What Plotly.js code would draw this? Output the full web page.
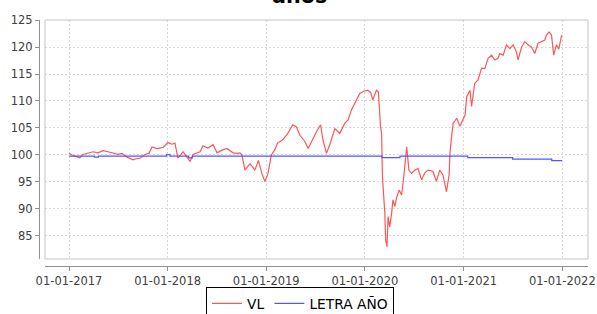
<!DOCTYPE html>
<html>
<head>
<meta charset="utf-8">
<script src="https://cdn.plot.ly/plotly-3.0.1.min.js"></script>
<style>html,body{margin:0;padding:0;background:#fff;}#chart{width:597px;height:314px;}</style>
</head>
<body>
<div id="chart"></div>
<script>
// VL series
const vlDates = [
"2017-01-02","2017-01-12","2017-01-29","2017-02-10","2017-02-21","2017-03-12","2017-03-31","2017-04-18","2017-05-07","2017-05-25",
"2017-06-13","2017-07-01","2017-07-16","2017-08-04","2017-08-26","2017-09-06","2017-09-21","2017-10-09","2017-10-24","2017-11-04",
"2017-11-23","2017-12-15","2018-01-02","2018-01-17","2018-01-28","2018-02-08","2018-02-27","2018-03-17","2018-03-25","2018-04-05",
"2018-05-01","2018-05-12","2018-05-30","2018-06-18","2018-07-03","2018-07-21","2018-08-09","2018-08-31","2018-09-14","2018-09-26",
"2018-10-03","2018-10-14","2018-11-02","2018-11-20","2018-12-03","2018-12-16","2018-12-27","2019-01-07","2019-01-20","2019-02-01",
"2019-02-12","2019-03-03","2019-03-22","2019-04-09","2019-04-23","2019-05-05","2019-05-24","2019-06-05","2019-06-17","2019-07-06",
"2019-07-21","2019-07-30","2019-08-12","2019-08-24","2019-09-12","2019-09-30","2019-10-19","2019-10-31","2019-11-12","2019-11-25",
"2019-12-06","2019-12-13","2019-12-28","2020-01-12","2020-01-23","2020-01-30","2020-02-13","2020-02-20","2020-02-28","2020-03-03",
"2020-03-06","2020-03-15","2020-03-18","2020-03-23","2020-03-27","2020-04-02","2020-04-09","2020-04-14","2020-04-21","2020-04-27",
"2020-05-07","2020-05-16","2020-05-24","2020-05-31","2020-06-04","2020-06-12","2020-06-22","2020-07-04","2020-07-16","2020-07-29",
"2020-08-10","2020-08-22","2020-09-09","2020-09-22","2020-10-04","2020-10-16","2020-10-29","2020-11-08","2020-11-11","2020-11-17",
"2020-11-23","2020-12-06","2020-12-18","2021-01-06","2021-01-12","2021-01-24","2021-01-30","2021-02-11","2021-02-23","2021-03-08",
"2021-03-20","2021-04-01","2021-04-14","2021-04-26","2021-05-08","2021-05-14","2021-05-27","2021-06-08","2021-06-21","2021-07-03",
"2021-07-15","2021-07-21","2021-08-03","2021-08-15","2021-08-27","2021-09-09","2021-09-21","2021-10-03","2021-10-16","2021-10-28",
"2021-11-03","2021-11-13","2021-11-22","2021-11-30","2021-12-10","2021-12-19","2021-12-28","2021-12-31"];
const vlValues = [
100.3,100.0,99.7,99.5,100.1,100.3,100.6,100.4,100.8,100.6,
100.4,100.1,100.3,99.6,99.1,99.3,99.4,100.1,100.3,101.5,
101.2,101.4,102.3,102.0,102.2,99.4,100.6,99.4,98.8,100.1,
100.6,101.7,101.3,101.9,100.4,100.9,101.2,100.4,100.3,100.4,
100.0,97.2,98.4,97.2,99.0,96.5,95.1,96.5,100.0,100.9,
102.2,102.8,104.0,105.6,105.2,103.7,102.5,101.2,102.5,104.3,
105.6,102.8,100.3,101.9,104.9,104.0,105.9,106.5,108.3,109.5,
110.8,111.4,111.8,112.0,111.5,110.2,112.0,111.7,105.2,104.0,
96.0,89.2,84.3,83.0,88.6,86.7,89.2,91.7,90.5,92.0,
93.5,92.6,96.0,99.1,101.5,97.2,96.6,97.2,97.5,95.4,
96.7,97.2,97.0,95.1,97.2,96.3,93.2,96.3,100.3,103.4,
105.9,106.8,105.3,107.4,110.8,112.0,109.0,113.3,113.9,116.1,
116.0,117.9,118.5,117.6,117.9,118.8,118.5,120.4,119.7,120.4,
119.1,117.6,120.0,121.0,120.4,120.0,118.8,120.7,121.0,121.3,
122.2,122.8,122.2,118.5,120.4,119.6,121.9,122.2];

// LETRA AÑO series (step line)
const letraDates = ["2017-01-01","2017-04-05","2017-04-20","2017-12-28","2018-01-10","2018-03-20","2018-04-03","2020-03-04","2020-05-10","2021-01-16","2021-07-01","2021-11-23","2021-12-31"];
const letraValues = [99.8,99.6,99.8,100.05,99.8,99.45,99.8,99.5,99.8,99.5,99.25,98.95,98.95];

const seriesNames = ["VL","LETRA AÑO"];
const xTickVals = ["2017-01-01","2018-01-01","2019-01-01","2020-01-01","2021-01-01","2022-01-01"];
const yTickVals = [85,90,95,100,105,110,115,120,125];
const titleText = "años";

const traces = [
  {x: vlDates, y: vlValues, name: seriesNames[0], type: "scatter", mode: "lines",
   line: {color: "#ff5555", width: 1.2}},
  {x: letraDates, y: letraValues, name: seriesNames[1], type: "scatter", mode: "lines",
   line: {color: "#5555ff", width: 1.2, shape: "hv"}}
];

const gridStyle = {gridcolor: "#d8d8d8", griddash: "2px,2px", gridwidth: 1};

const layout = {
  width: 597, height: 314,
  margin: {l: 39, r: 9, t: 20, b: 48, pad: 0, autoexpand: false},
  paper_bgcolor: "#ffffff", plot_bgcolor: "#ffffff",
  font: {family: "DejaVu Sans", color: "#404040"},
  showlegend: true,
  hovermode: false,
  xaxis: Object.assign({
    type: "date", domain: [0.0109, 1], anchor: "free", position: 0, automargin: false,
    range: ["2016-10-04", "2022-04-06"],
    tickmode: "array", tickvals: xTickVals, tickformat: "%d-%m-%Y",
    ticks: "outside", ticklen: 4, tickcolor: "#909090", tickwidth: 1,
    showline: true, linecolor: "#909090", linewidth: 1,
    zeroline: false, showgrid: true,
    tickfont: {family: "DejaVu Sans", size: 11.5, color: "#404040"}
  }, gridStyle),
  yaxis: Object.assign({
    domain: [0.0285, 1], anchor: "free", position: 0, automargin: false,
    range: [80.74, 125],
    tickmode: "array", tickvals: yTickVals,
    ticks: "outside", ticklen: 4, tickcolor: "#909090", tickwidth: 1,
    showline: true, linecolor: "#909090", linewidth: 1,
    zeroline: false, showgrid: true,
    tickfont: {family: "DejaVu Sans", size: 11.5, color: "#404040"}
  }, gridStyle),
  shapes: [
    {type: "rect", xref: "x domain", yref: "y domain", x0: 0, x1: 1, y0: 0, y1: 1,
     line: {color: "#c4c4c4", width: 1}, layer: "above"}
  ],
  annotations: [
    {text: "<b>" + titleText + "</b>", xref: "paper", yref: "paper", x: 0.4754, y: 1,
     xanchor: "center", yanchor: "bottom", yshift: 11, showarrow: false, borderpad: 0,
     font: {family: "DejaVu Sans", size: 20.7, color: "#000000"}}
  ],
  legend: {
    orientation: "h", x: 0.4754, xanchor: "center", y: -0.085, yanchor: "top",
    bordercolor: "#000000", borderwidth: 1, bgcolor: "#ffffff",
    font: {family: "DejaVu Sans", size: 13.8, color: "#000000"},
    itemwidth: 30, tracegroupgap: 0
  }
};

Plotly.newPlot("chart", traces, layout, {staticPlot: true, displayModeBar: false});
</script>
</body>
</html>
